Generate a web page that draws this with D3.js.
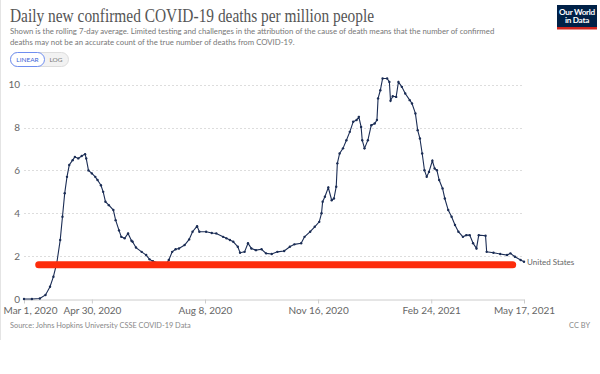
<!DOCTYPE html>
<html lang="en">
  <head>
    <meta charset="UTF-8" />
    <title>Daily new confirmed COVID-19 deaths per million people</title>
    <script src="https://cdn.jsdelivr.net/npm/d3@7"></script>
    <style>
      body {
        margin: 0;
        background: #fff;
        font-family: Lato, 'Open Sans', sans-serif;
      }
      svg {
        display: block;
      }
      .grid line {
        stroke: #ddd;
        stroke-dasharray: 2, 2;
      }
      .axis text {
        fill: #666;
        font-family: Lato, sans-serif;
      }
    </style>
  </head>
  <body>
    <svg width="600" height="374"></svg>

    <script>
      // Rolling 7-day average, United States
      const dates = [
        '2020-03-01', '2020-03-08', '2020-03-15', '2020-03-20', '2020-03-24', '2020-03-27', '2020-03-30',
        '2020-04-02', '2020-04-04', '2020-04-06', '2020-04-08', '2020-04-10', '2020-04-13', '2020-04-15',
        '2020-04-18', '2020-04-21', '2020-04-24', '2020-04-25', '2020-04-27', '2020-04-30', '2020-05-03',
        '2020-05-05', '2020-05-08', '2020-05-10', '2020-05-12', '2020-05-15', '2020-05-19', '2020-05-21',
        '2020-05-24', '2020-05-26', '2020-05-29', '2020-06-01', '2020-06-04', '2020-06-05', '2020-06-08',
        '2020-06-13', '2020-06-17', '2020-06-20', '2020-06-23', '2020-06-29', '2020-07-05', '2020-07-07',
        '2020-07-10', '2020-07-13', '2020-07-16', '2020-07-21', '2020-07-25', '2020-07-28', '2020-08-01',
        '2020-08-03', '2020-08-09', '2020-08-14', '2020-08-18', '2020-08-24', '2020-08-27', '2020-08-30',
        '2020-09-02', '2020-09-06', '2020-09-08', '2020-09-12', '2020-09-15', '2020-09-18', '2020-09-22',
        '2020-09-27', '2020-10-01', '2020-10-06', '2020-10-11', '2020-10-17', '2020-10-22', '2020-10-26',
        '2020-11-01', '2020-11-04', '2020-11-09', '2020-11-13', '2020-11-17', '2020-11-19', '2020-11-20',
        '2020-11-22', '2020-11-25', '2020-11-28', '2020-11-30', '2020-12-02', '2020-12-03', '2020-12-05',
        '2020-12-08', '2020-12-11', '2020-12-14', '2020-12-17', '2020-12-20', '2020-12-22', '2020-12-24',
        '2020-12-25', '2020-12-27', '2020-12-30', '2021-01-02', '2021-01-05', '2021-01-07', '2021-01-08',
        '2021-01-10', '2021-01-12', '2021-01-16', '2021-01-18', '2021-01-19', '2021-01-21', '2021-01-24',
        '2021-01-26', '2021-01-29', '2021-02-01', '2021-02-05', '2021-02-07', '2021-02-10', '2021-02-12',
        '2021-02-14', '2021-02-16', '2021-02-18', '2021-02-20', '2021-02-22', '2021-02-25', '2021-02-27',
        '2021-03-01', '2021-03-03', '2021-03-06', '2021-03-08', '2021-03-11', '2021-03-14', '2021-03-17',
        '2021-03-20', '2021-03-24', '2021-03-27', '2021-03-30', '2021-04-02', '2021-04-05', '2021-04-07',
        '2021-04-13', '2021-04-14', '2021-04-20', '2021-04-26', '2021-05-02', '2021-05-05', '2021-05-09',
        '2021-05-14', '2021-05-17'
      ];
      const deaths = [
        0, 0, 0.02, 0.19, 0.57, 1.04, 1.68,
        2.75, 3.84, 4.94, 5.7, 6.25, 6.48, 6.63,
        6.56, 6.67, 6.76, 6.56, 6.0, 5.86, 5.7,
        5.55, 5.31, 5.0, 4.54, 4.38, 4.15, 3.68,
        3.2, 2.9, 2.83, 3.06, 2.72, 2.67, 2.4,
        2.2, 2.05, 1.85, 1.76, 1.66, 1.66, 1.82,
        2.2, 2.32, 2.36, 2.52, 2.78, 3.14, 3.4,
        3.14, 3.14, 3.08, 3.06, 2.9, 2.83, 2.75,
        2.67, 2.44, 2.16, 2.2, 2.6, 2.36, 2.28,
        2.32, 2.13, 2.1, 2.2, 2.24, 2.44, 2.55,
        2.6, 2.9, 3.14, 3.37, 3.6, 4.0, 4.54,
        4.77, 5.2, 4.61, 4.69, 5.24, 6.33, 6.79,
        7.03, 7.41, 7.8, 8.27, 8.35, 8.5, 8.03,
        7.41, 7.03, 7.41, 8.11, 8.19, 8.35, 9.36,
        9.74, 10.29, 10.29, 10.13, 9.25, 9.46, 9.43,
        10.13, 9.9, 9.59, 9.28, 9.12, 8.66, 7.88,
        7.49, 6.79, 6.01, 5.7, 5.93, 6.45, 6.09,
        6.01, 5.55, 5.16, 4.69, 4.15, 3.84, 3.45,
        3.14, 2.9, 2.98, 2.98, 2.6, 2.36, 2.98,
        2.95, 2.2, 2.16, 2.1, 2.05, 2.13, 1.97,
        1.82, 1.74
      ];
      const seriesName = 'United States';

      const xTickDates = ['2020-03-01', '2020-04-30', '2020-08-08', '2020-11-16', '2021-02-24', '2021-05-17'];
      const yTicks = [0, 2, 4, 6, 8, 10];

      // red highlight bar drawn over the chart
      const markerLevel = 1.6;
      const markerSpan = ['2020-03-14', '2021-05-07'];

      const parse = d3.timeParse('%Y-%m-%d');
      const data = dates.map((d, i) => ({ date: parse(d), value: deaths[i] }));

      const svg = d3.select('svg');

      const x = d3
        .scaleTime()
        .domain([parse(xTickDates[0]), parse(xTickDates[xTickDates.length - 1])])
        .range([24, 524]);

      const y = d3.scaleLinear().domain([0, 10]).range([299, 84.7]);

      // left border of the frame
      svg.append('line')
        .attr('x1', 0.5).attr('x2', 0.5).attr('y1', 0).attr('y2', 340)
        .attr('stroke', '#e4e4e4');

      // Header
      svg.append('text')
        .attr('x', 10).attr('y', 22)
        .attr('textLength', 364).attr('lengthAdjust', 'spacingAndGlyphs')
        .style('font-family', "'Liberation Serif', 'DejaVu Serif', serif")
        .style('font-size', '18px')
        .style('fill', '#555')
        .text('Daily new confirmed COVID-19 deaths per million people');

      const sub = svg.append('g')
        .style('font-family', 'Lato, sans-serif')
        .style('font-size', '7.8px')
        .style('fill', '#777');
      sub.append('text').attr('x', 10).attr('y', 34)
        .text('Shown is the rolling 7-day average. Limited testing and challenges in the attribution of the cause of death means that the number of confirmed');
      sub.append('text').attr('x', 10).attr('y', 45)
        .text('deaths may not be an accurate count of the true number of deaths from COVID-19.');

      // LINEAR / LOG toggle
      const toggle = svg.append('g').style('font-family', 'Lato, sans-serif').style('font-size', '6.5px');
      toggle.append('rect')
        .attr('x', 10.5).attr('y', 52.5).attr('width', 58).attr('height', 14).attr('rx', 7)
        .attr('fill', '#f2f2f2').attr('stroke', '#ddd');
      toggle.append('rect')
        .attr('x', 10.5).attr('y', 52.5).attr('width', 34).attr('height', 14).attr('rx', 7)
        .attr('fill', '#fff').attr('stroke', '#6f8ef0');
      toggle.append('text').attr('x', 27.5).attr('y', 62).attr('text-anchor', 'middle')
        .style('fill', '#3b63d6').text('LINEAR');
      toggle.append('text').attr('x', 56).attr('y', 62).attr('text-anchor', 'middle')
        .style('fill', '#777').text('LOG');

      // OWID logo
      const logo = svg.append('g');
      logo.append('rect').attr('x', 557).attr('y', 5).attr('width', 40).attr('height', 24).attr('fill', '#002147');
      logo.append('rect').attr('x', 557).attr('y', 27).attr('width', 40).attr('height', 2.5).attr('fill', '#ce261e');
      logo.selectAll('text')
        .data(['Our World', 'in Data'])
        .join('text')
        .attr('x', 577)
        .attr('y', (d, i) => 14.5 + i * 8.5)
        .attr('text-anchor', 'middle')
        .style('font-family', 'Lato, sans-serif')
        .style('font-weight', 'bold')
        .style('font-size', '8.2px')
        .style('letter-spacing', '-0.3px')
        .style('fill', '#fff')
        .text((d) => d);

      // Grid + y axis labels
      svg.append('g')
        .attr('class', 'grid')
        .selectAll('line')
        .data(yTicks.filter((t) => t > 0))
        .join('line')
        .attr('x1', 24).attr('x2', 524)
        .attr('y1', (d) => Math.round(y(d)) + 0.5)
        .attr('y2', (d) => Math.round(y(d)) + 0.5);

      const yAxis = d3.axisLeft(y).tickValues(yTicks).tickSize(0).tickPadding(4);
      svg.append('g')
        .attr('class', 'axis')
        .attr('transform', 'translate(24,0)')
        .call(yAxis)
        .call((g) => g.select('.domain').remove())
        .call((g) => g.selectAll('text').style('font-size', '10px'));

      const xAxis = d3
        .axisBottom(x)
        .tickValues(xTickDates.map(parse))
        .tickFormat(d3.timeFormat('%b %-d, %Y'))
        .tickSize(4)
        .tickSizeOuter(0)
        .tickPadding(3);
      svg.append('g')
        .attr('class', 'axis')
        .attr('transform', 'translate(0,299.5)')
        .call(xAxis)
        .call((g) => g.select('.domain').attr('stroke', '#ccc'))
        .call((g) => g.selectAll('.tick line').attr('stroke', '#ccc'))
        .call((g) => g.selectAll('text').style('font-size', '10px'))
        // keep the first label inside the frame
        .call((g) => g.select('.tick:first-of-type text').attr('text-anchor', 'start').attr('x', -21));

      // Series
      const line = d3.line().x((d) => x(d.date)).y((d) => y(d.value));
      svg.append('path')
        .datum(data)
        .attr('fill', 'none')
        .attr('stroke', '#1b2d55')
        .attr('stroke-width', 1.1)
        .attr('d', line);

      svg.append('g')
        .selectAll('circle')
        .data(data)
        .join('circle')
        .attr('cx', (d) => x(d.date))
        .attr('cy', (d) => y(d.value))
        .attr('r', 1.2)
        .attr('fill', '#1b2d55');

      const last = data[data.length - 1];
      svg.append('text')
        .attr('x', x(last.date) + 3)
        .attr('y', y(last.value) + 3)
        .style('font-family', 'Lato, sans-serif')
        .style('font-size', '8px')
        .style('fill', '#666')
        .text(seriesName);

      // Red highlight bar
      svg.append('line')
        .attr('x1', x(parse(markerSpan[0])))
        .attr('x2', x(parse(markerSpan[1])))
        .attr('y1', y(markerLevel))
        .attr('y2', y(markerLevel))
        .attr('stroke', '#fd2c0b')
        .attr('stroke-width', 7)
        .attr('stroke-linecap', 'round');

      // Footer
      const foot = svg.append('g')
        .style('font-family', 'Lato, sans-serif')
        .style('font-size', '7.4px')
        .style('fill', '#888');
      foot.append('text').attr('x', 10).attr('y', 328)
        .text('Source: Johns Hopkins University CSSE COVID-19 Data');
      foot.append('text').attr('x', 590).attr('y', 328).attr('text-anchor', 'end')
        .text('CC BY');
    </script>
  </body>
</html>
